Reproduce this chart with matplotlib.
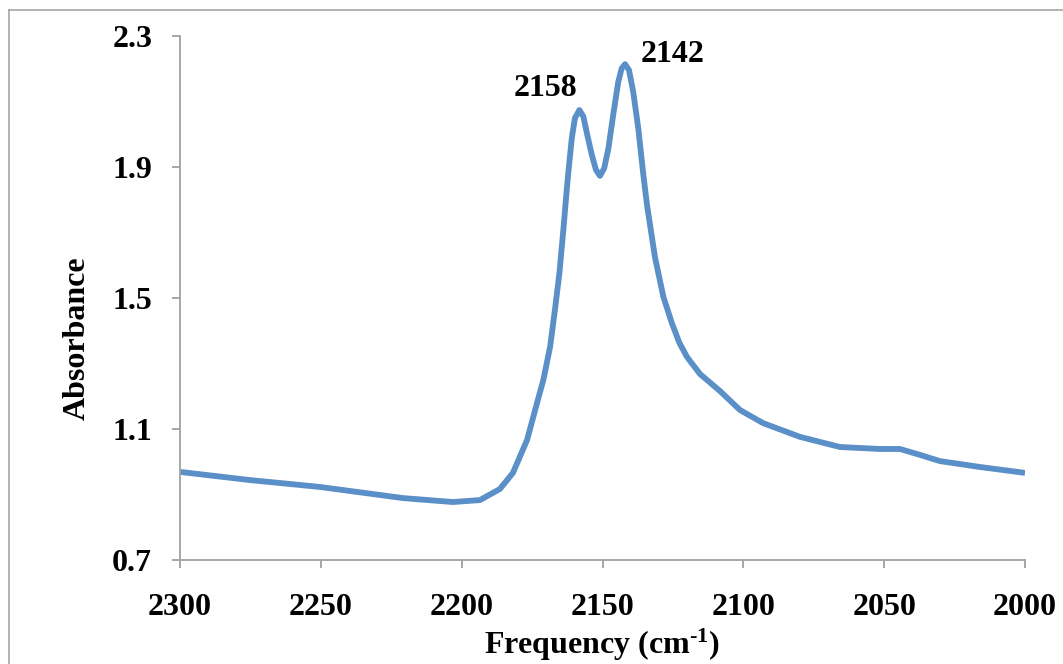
import matplotlib
matplotlib.use("Agg")
import matplotlib.pyplot as plt
from matplotlib.lines import Line2D

plt.rcParams['font.family'] = ['Liberation Serif', 'DejaVu Serif']
plt.rcParams['font.weight'] = 'bold'
plt.rcParams['mathtext.fontset'] = 'custom'
plt.rcParams['mathtext.rm'] = 'Liberation Serif:bold'
plt.rcParams['mathtext.bf'] = 'Liberation Serif:bold'
plt.rcParams['mathtext.it'] = 'Liberation Serif:bold'

# spectrum
freq = [2300.0, 2275.1, 2250.3, 2220.8, 2203.1, 2193.5, 2186.4, 2181.8, 2176.8,
        2173.6, 2171.0, 2168.6, 2166.9, 2165.3, 2163.9, 2162.7, 2162.1, 2160.9,
        2159.8, 2158.2, 2156.8, 2155.4, 2153.8, 2152.3, 2150.9, 2149.4, 2147.9,
        2146.2, 2144.4, 2143.2, 2142.0, 2140.6, 2139.1, 2137.3, 2135.5, 2134.2,
        2131.4, 2128.4, 2125.4, 2122.7, 2120.0, 2115.4, 2108.3, 2101.2, 2093.0,
        2079.9, 2065.7, 2051.5, 2044.4, 2037.3, 2030.2, 2016.0, 2000.0]
absorb = [0.969, 0.944, 0.923, 0.889, 0.877, 0.883, 0.917, 0.966, 1.066,
          1.168, 1.250, 1.351, 1.463, 1.576, 1.708, 1.830, 1.886, 1.988,
          2.049, 2.074, 2.054, 1.998, 1.937, 1.891, 1.873, 1.896, 1.957,
          2.059, 2.160, 2.201, 2.214, 2.196, 2.130, 2.018, 1.876, 1.784,
          1.626, 1.504, 1.424, 1.363, 1.320, 1.268, 1.216, 1.158, 1.118,
          1.076, 1.045, 1.039, 1.039, 1.021, 1.002, 0.984, 0.966]

peak_labels = ['2158', '2142']
peak_pos = [(2170.4, 2.141), (2125.3, 2.242)]

xticks = [2300, 2250, 2200, 2150, 2100, 2050, 2000]
yticks = [0.7, 1.1, 1.5, 1.9, 2.3]

fig = plt.figure(figsize=(10.63, 6.64), dpi=100)
ax = fig.add_axes([180 / 1063, 1 - 560 / 664, 845 / 1063, 524 / 664])

ax.plot(freq, absorb, color='#5A8FC8', lw=4.2, solid_capstyle='butt',
        solid_joinstyle='round')

for lab, (px, py) in zip(peak_labels, peak_pos):
    ax.text(px, py, lab, fontsize=23, fontweight='bold', ha='center', va='center')

ax.set_xlim(2300, 2000)
ax.set_ylim(0.7, 2.3)
ax.set_xticks(xticks)
ax.set_yticks(yticks)
ax.set_xticklabels([str(t) for t in xticks])
ax.set_yticklabels([str(t) for t in yticks])

for s in ['top', 'right']:
    ax.spines[s].set_visible(False)
for s in ['left', 'bottom']:
    ax.spines[s].set_color('#A6A6A6')
    ax.spines[s].set_linewidth(1.4)

ax.tick_params(axis='both', direction='out', length=6, width=1.4, color='#A6A6A6',
               labelsize=23)
ax.tick_params(axis='x', pad=18)
ax.tick_params(axis='y', pad=14)

ax.set_xlabel(r'Frequency (cm$^{\text{-1}}$)', fontsize=23, fontweight='bold')
ax.set_ylabel('Absorbance', fontsize=23, fontweight='bold')
ax.xaxis.set_label_coords(0.5, -0.127)
ax.yaxis.set_label_coords(-0.104, 0.424)

# outer chart border (left and top only are visible)
bc = '#A6A6A6'
fig.add_artist(Line2D([9 / 1063, 9 / 1063], [-0.1, 1 - 10 / 664], transform=fig.transFigure, color=bc, lw=1.2))
fig.add_artist(Line2D([9 / 1063, 1.1], [1 - 10 / 664, 1 - 10 / 664], transform=fig.transFigure, color=bc, lw=1.2))

fig.savefig('out.png', dpi=100)
